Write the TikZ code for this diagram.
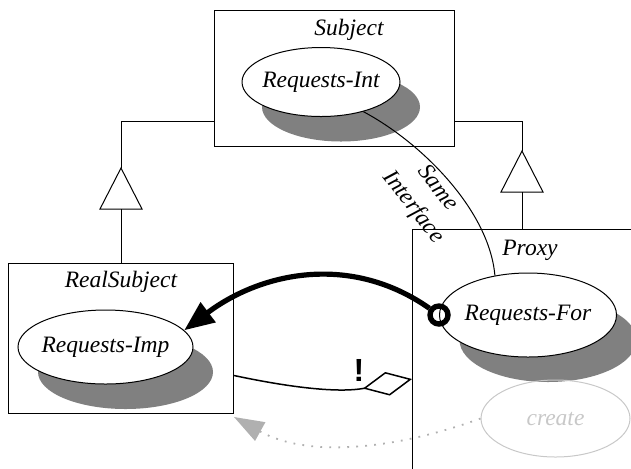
\documentclass[tikz,border=0pt]{standalone}
\usepackage{fontspec}
\setmainfont{Liberation Serif}
\newfontfamily\bangfont{Liberation Sans}
\usetikzlibrary{arrows.meta, positioning, shapes.geometric, shadows}
\definecolor{cshadow}{HTML}{808080}
\definecolor{cfaint}{HTML}{C8C8C8}
\definecolor{cdot}{HTML}{B0B0B0}
\tikzset{
  every picture/.style={font=\fontsize{11.75}{14}\selectfont\itshape, line width=0.5pt},
  box/.style={draw, rectangle, anchor=north west, inner sep=0pt},
  op/.style={ellipse, draw, fill=white, inner xsep=-2pt, inner ysep=0pt,
    drop shadow={shadow xshift=10pt, shadow yshift=-12.5pt, fill=cshadow, opacity=1}},
  cls/.style={inner sep=0pt},
  calls/.style={-{Triangle[length=15pt, width=12pt]}, line width=2.6pt},
  port/.style={circle, draw, line width=2.7pt, minimum size=9pt, inner sep=0pt},
  faded/.style={draw=cdot, line width=0.9pt, dash pattern=on 0.9pt off 3.6pt,
    -{Triangle[length=15pt, width=10.5pt, fill=cdot]}},
}

\begin{document}
\begin{tikzpicture}[x=0.5pt, y=-0.5pt]
  \useasboundingbox (0,0) rectangle (631,468);
  \node[box, minimum width=120pt, minimum height=68pt] (subj) at (214,10) {};
  \node[box, minimum width=112.5pt, minimum height=75pt] (real) at (8,263) {};
  \node[box, minimum width=120pt, minimum height=130pt] (proxy) at (412,229) {};
  \node[cls] (subjname) at (349,30) {Subject};
  \node[cls] (realname) at (121,282) {RealSubject};
  \node[cls] (proxyname) at (530,250) {Proxy};
  \foreach \n/\x/\y in {l/121/168, r/522/151} {
    \coordinate (\n apex) at (\x,\y);
    \coordinate (\n base) at (\x,\y+41);
    \draw (\n apex) -- ++(10.5pt,-20.5pt) -- ++(-21pt,0pt) -- cycle;
  }
  \draw ([yshift=-21.5pt]subj.west) -| (lapex);
  \draw (lbase) -- (real.north);
  \draw ([yshift=-21.5pt]subj.east) -| (rapex);
  \draw (rbase) -- ([xshift=55pt]proxy.north west);
  \node[op, minimum width=79pt, minimum height=34.5pt] (int) at (321,82) {Requests-Int};
  \node[op, minimum width=87.5pt, minimum height=37pt] (imp) at (105.5,347) {Requests-Imp};
  \node[op, minimum width=88.5pt, minimum height=42pt] (for) at (528,315) {Requests-For};
  \node[ellipse, draw=cfaint, text=cfaint, inner xsep=-2pt, inner ysep=0pt,
    minimum width=74.5pt, minimum height=38.5pt] (create) at (555.5,418.5) {create};
  \draw (int.-35) to[out=-28, in=95, looseness=0.8] (for.130);
  \node[rotate=-52, align=center, inner sep=0pt] (same) at (425,198) {Same\\[1.5pt]Interface};
  \node[port] (port) at (for.west) {};
  \draw[calls] (port) to[out=145, in=37] (imp.12);
  \draw[line width=0.75pt, -{Diamond[open, length=25pt, width=12pt]}]
    ([yshift=-18.5pt]real.east) to[out=-12, in=191] ([yshift=-75pt]proxy.north west);
  \node[font=\bangfont\bfseries\upshape\fontsize{16}{16}\selectfont] (bang) at (359,370) {!};
  \draw[faded] (create.west) to[out=200, in=-29, looseness=0.9] ([yshift=-1.5pt]real.south east);
\end{tikzpicture}
\end{document}
